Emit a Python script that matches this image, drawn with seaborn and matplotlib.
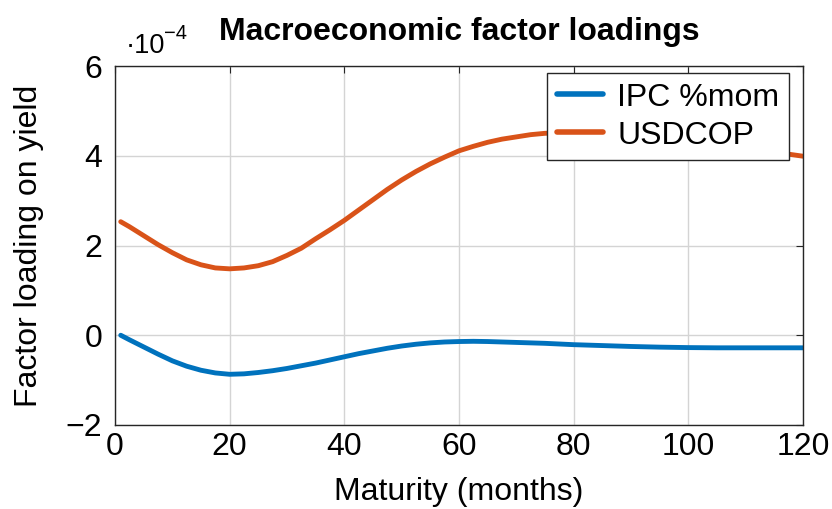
import numpy as np
import pandas as pd
import seaborn as sns
import matplotlib
matplotlib.use("Agg")
import matplotlib.pyplot as plt
from matplotlib.ticker import FuncFormatter, MultipleLocator

# Maturities in months and the loadings of each macro factor (units of 1e-4)
maturity = [1, 2.5, 5, 7.5, 10, 12.5, 15, 17.5, 20, 22.5, 25, 27.5, 30,
            32.5, 35, 37.5, 40, 42.5, 45, 47.5, 50, 52.5, 55, 57.5, 60,
            62.5, 65, 67.5, 70, 72.5, 75, 77.5, 80, 85, 90, 95, 100, 105,
            110, 115, 120]
ipc_mom = [0.00, -0.10, -0.26, -0.42, -0.57, -0.69, -0.78, -0.84, -0.87,
           -0.86, -0.83, -0.79, -0.74, -0.68, -0.62, -0.55, -0.48, -0.41,
           -0.35, -0.29, -0.24, -0.20, -0.17, -0.15, -0.14, -0.135, -0.14,
           -0.15, -0.16, -0.17, -0.18, -0.195, -0.21, -0.23, -0.25, -0.265,
           -0.275, -0.28, -0.28, -0.28, -0.28]
usdcop = [2.53, 2.42, 2.22, 2.02, 1.84, 1.68, 1.57, 1.50, 1.48, 1.50,
          1.55, 1.64, 1.78, 1.94, 2.15, 2.35, 2.56, 2.79, 3.02, 3.25,
          3.46, 3.65, 3.82, 3.97, 4.11, 4.21, 4.30, 4.37, 4.42, 4.47,
          4.50, 4.51, 4.51, 4.49, 4.45, 4.39, 4.32, 4.24, 4.16, 4.08, 3.99]
series_names = ["IPC %mom", "USDCOP"]
scale = 1e-4

df = pd.concat([
    pd.DataFrame({"Maturity": maturity,
                  "Loading": np.array(vals) * scale,
                  "Factor": name})
    for name, vals in zip(series_names, [ipc_mom, usdcop])
], ignore_index=True)

sns.set_theme(style="whitegrid")
plt.rcParams["font.family"] = ["Liberation Sans", "DejaVu Sans"]
plt.rcParams["text.color"] = "black"
plt.rcParams["axes.labelcolor"] = "black"

FS = 23
W, H = 832, 509

fig = plt.figure(figsize=(W / 100, H / 100), dpi=100)
ax = fig.add_axes([115 / W, 1 - 425 / H, 688 / W, 359 / H])

palette = {"IPC %mom": "#0072BD", "USDCOP": "#D95319"}
sns.lineplot(data=df, x="Maturity", y="Loading", hue="Factor",
             palette=palette, linewidth=3.5, ax=ax, legend=True)

ax.set_xlim(0, 120)
ax.set_ylim(-2 * scale, 6 * scale)
ax.xaxis.set_major_locator(MultipleLocator(20))
ax.yaxis.set_major_locator(MultipleLocator(2 * scale))
ax.yaxis.set_major_formatter(FuncFormatter(
    lambda v, pos: f"{v / scale:.0f}".replace("-", "\u2212")))

ax.set_facecolor("white")
ax.grid(True, color="#d4d4d4", linewidth=1.0)
for s in ax.spines.values():
    s.set_color("#262626")
    s.set_linewidth(1.0)
    s.set_visible(True)

ax.tick_params(axis="both", which="major", direction="in", length=5,
               width=0.8, color="#262626", labelsize=FS, labelcolor="black",
               top=True, right=True)
ax.tick_params(axis="y", pad=9)
ax.tick_params(axis="x", pad=5)

ax.set_xlabel("Maturity (months)", fontsize=FS, labelpad=11, color="black")
ax.set_ylabel("Factor loading on yield", fontsize=FS, labelpad=16,
              color="black")
ax.set_title("Macroeconomic factor loadings", fontsize=FS,
             fontweight="bold", pad=19, color="black")

# Common scale factor of the y tick labels, written above the axis
fig.text(126 / W, 1 - 53 / H, "\u00b710", fontsize=19.5, ha="left",
         va="baseline", color="black")
fig.text(164 / W, 1 - 39 / H, "\u22124", fontsize=14.5, ha="left",
         va="baseline", color="black")

leg = ax.legend(loc="upper right", fontsize=FS, frameon=True,
                fancybox=False, edgecolor="#262626", framealpha=1,
                handlelength=1.45, borderpad=0.3, labelspacing=0.25,
                handletextpad=0.45, borderaxespad=0,
                bbox_to_anchor=(0.9797, 0.9805))
leg.get_frame().set_linewidth(1.0)
for line in leg.get_lines():
    line.set_linewidth(4.0)

fig.savefig("out.png", dpi=100, facecolor="white")
